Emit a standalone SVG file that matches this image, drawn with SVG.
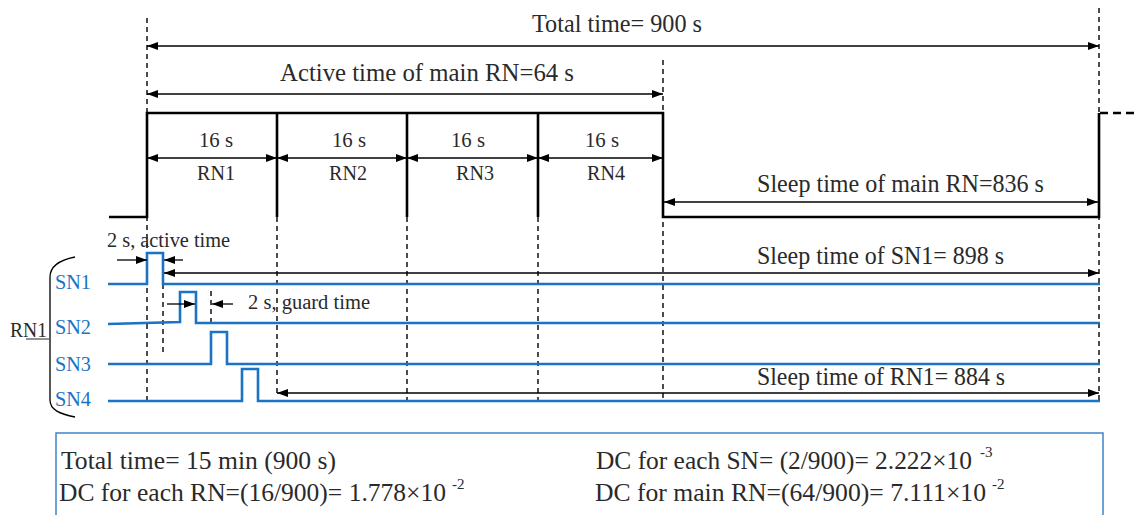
<svg xmlns="http://www.w3.org/2000/svg" width="1135" height="515" viewBox="0 0 1135 515">
<defs>
<marker id="ah" viewBox="0 0 11 8" refX="11" refY="4" markerWidth="11" markerHeight="8" markerUnits="userSpaceOnUse" orient="auto-start-reverse">
<path d="M0,0 L11,4 L0,8 z" fill="#000"/>
</marker>
<style>
.t{font-family:"Liberation Serif","Times New Roman",serif;fill:#2a2a2a}
.big{font-size:25px}
.mid{font-size:20px}
.sn{font-size:20px;fill:#1a73c4}
.bot{font-size:26px}
.sup{font-size:15px}
.wave{fill:none;stroke:#000;stroke-width:2.6}
.blue{fill:none;stroke:#1a73c4;stroke-width:2.6}
.dash{fill:none;stroke:#000;stroke-width:1.4;stroke-dasharray:5,4}
.arr{fill:none;stroke:#000;stroke-width:1.3}
</style>
</defs>
<rect width="1135" height="515" fill="#fff"/>

<g id="guides">
<path class="dash" d="M147,18 V401 M1099,8 V402 M663,60 V400 M277,217 V395 M407,217 V400 M538,217 V400 M163,284 V352 M211,291 V323"/>
</g>

<g id="main-rn">
<path class="wave" d="M109,217 H147 V113 H663 V217 H1099 V113"/>
<path class="wave" d="M277,113 V217 M407,113 V217 M538,113 V217"/>
<path fill="none" stroke="#000" stroke-width="2.6" stroke-dasharray="8,5" d="M1100,113 H1135"/>
</g>

<g id="sensor-nodes">
<path class="blue" d="M108,284 H147 V253 H163 V284 H1100"/>
<path class="blue" d="M108,324 L180,322 V292 H196 V323 H1100"/>
<path class="blue" d="M108,364 H211 V332 H227 V364 H1100"/>
<path class="blue" d="M108,401 H242 V369 H258 V401 H1100"/>
<text class="t sn" x="55" y="289" textLength="36" lengthAdjust="spacingAndGlyphs">SN1</text>
<text class="t sn" x="55" y="334" textLength="36" lengthAdjust="spacingAndGlyphs">SN2</text>
<text class="t sn" x="55" y="371" textLength="36" lengthAdjust="spacingAndGlyphs">SN3</text>
<text class="t sn" x="55" y="406" textLength="36" lengthAdjust="spacingAndGlyphs">SN4</text>
</g>

<g id="rn1-brace">
<path fill="none" stroke="#000" stroke-width="1.3" d="M75,257 C60,260 50,266 50,277 L50,400 C50,410 60,414 75,417"/>
<path fill="none" stroke="#555" stroke-width="1.3" d="M26,339 H50"/>
<text class="t mid" x="10" y="337" textLength="37" lengthAdjust="spacingAndGlyphs">RN1</text>
</g>

<g id="connectors">
<line class="arr" x1="147" y1="46" x2="1099" y2="46" marker-start="url(#ah)" marker-end="url(#ah)"/>
<line class="arr" x1="147" y1="94" x2="663" y2="94" marker-start="url(#ah)" marker-end="url(#ah)"/>
<line class="arr" x1="147" y1="158" x2="277" y2="158" marker-start="url(#ah)" marker-end="url(#ah)"/>
<line class="arr" x1="277" y1="158" x2="407" y2="158" marker-start="url(#ah)" marker-end="url(#ah)"/>
<line class="arr" x1="407" y1="158" x2="538" y2="158" marker-start="url(#ah)" marker-end="url(#ah)"/>
<line class="arr" x1="538" y1="158" x2="663" y2="158" marker-start="url(#ah)" marker-end="url(#ah)"/>
<line class="arr" x1="664" y1="202" x2="1098" y2="202" marker-start="url(#ah)" marker-end="url(#ah)"/>
<line class="arr" x1="117" y1="260" x2="147" y2="260" marker-end="url(#ah)"/>
<line class="arr" x1="183" y1="260" x2="164" y2="260" marker-end="url(#ah)"/>
<line class="arr" x1="164" y1="273" x2="1099" y2="273" marker-start="url(#ah)" marker-end="url(#ah)"/>
<line class="arr" x1="167" y1="304" x2="195" y2="304" marker-end="url(#ah)"/>
<line class="arr" x1="233" y1="304" x2="212" y2="304" marker-end="url(#ah)"/>
<line class="arr" x1="277" y1="393" x2="1099" y2="393" marker-start="url(#ah)" marker-end="url(#ah)"/>
</g>

<g id="labels">
<text class="t big" x="532" y="32" textLength="170" lengthAdjust="spacingAndGlyphs">Total time= 900 s</text>
<text class="t big" x="280" y="81" textLength="294" lengthAdjust="spacingAndGlyphs">Active time of main RN=64 s</text>
<text class="t mid" x="199" y="147" textLength="34" lengthAdjust="spacingAndGlyphs">16 s</text>
<text class="t mid" x="332" y="147" textLength="34" lengthAdjust="spacingAndGlyphs">16 s</text>
<text class="t mid" x="451" y="147" textLength="34" lengthAdjust="spacingAndGlyphs">16 s</text>
<text class="t mid" x="585" y="147" textLength="34" lengthAdjust="spacingAndGlyphs">16 s</text>
<text class="t mid" x="197" y="180" textLength="38" lengthAdjust="spacingAndGlyphs">RN1</text>
<text class="t mid" x="329" y="180" textLength="38" lengthAdjust="spacingAndGlyphs">RN2</text>
<text class="t mid" x="456" y="180" textLength="38" lengthAdjust="spacingAndGlyphs">RN3</text>
<text class="t mid" x="587" y="180" textLength="38" lengthAdjust="spacingAndGlyphs">RN4</text>
<text class="t big" x="757" y="192" textLength="287" lengthAdjust="spacingAndGlyphs">Sleep time of main RN=836 s</text>
<text class="t mid" x="107" y="247" textLength="123" lengthAdjust="spacingAndGlyphs">2 s, active time</text>
<text class="t big" x="757" y="264" textLength="247" lengthAdjust="spacingAndGlyphs">Sleep time of SN1= 898 s</text>
<text class="t mid" x="248" y="309" textLength="122" lengthAdjust="spacingAndGlyphs">2 s, guard time</text>
<text class="t big" x="757" y="385" textLength="248" lengthAdjust="spacingAndGlyphs">Sleep time of RN1= 884 s</text>
</g>

<g id="summary">
<rect x="56" y="433" width="1047" height="100" fill="none" stroke="#3d85c6" stroke-width="1.5"/>
<text class="t bot" x="61" y="469" textLength="275" lengthAdjust="spacingAndGlyphs">Total time= 15 min (900 s)</text>
<text class="t bot" x="596" y="469" textLength="376" lengthAdjust="spacingAndGlyphs">DC for each SN= (2/900)= 2.222×10</text>
<text class="t sup" x="980" y="457">-3</text>
<text class="t bot" x="59" y="501" textLength="387" lengthAdjust="spacingAndGlyphs">DC for each RN=(16/900)= 1.778×10</text>
<text class="t sup" x="452" y="489">-2</text>
<text class="t bot" x="595" y="501" textLength="391" lengthAdjust="spacingAndGlyphs">DC for main RN=(64/900)= 7.111×10</text>
<text class="t sup" x="992" y="489">-2</text>
</g>
</svg>
